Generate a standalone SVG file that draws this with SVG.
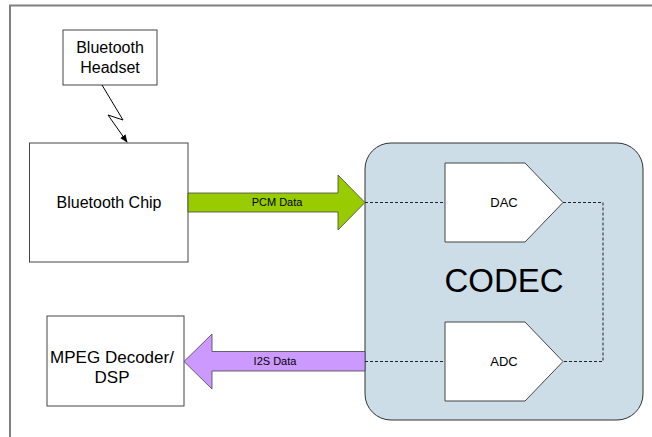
<svg xmlns="http://www.w3.org/2000/svg" width="652" height="437" viewBox="0 0 652 437">
<style>
.box{fill:#fff;stroke:#444;stroke-width:1}
.t{font-family:"Liberation Sans",Arial,sans-serif;fill:#000;text-anchor:middle}
.dash{fill:none;stroke:#222;stroke-width:1;stroke-dasharray:3,2}
</style>
<defs>
<marker id="ah" viewBox="0 0 10 10" refX="9" refY="5" markerWidth="8" markerHeight="8" orient="auto" markerUnits="userSpaceOnUse">
<path d="M0,1 L10,5 L0,9 Z" fill="#000"/>
</marker>
</defs>
<rect width="652" height="437" fill="#fff"/>
<path d="M10,437 V5.5 H652" fill="none" stroke="#808080" stroke-width="2"/>
<g id="codec">
<rect x="365" y="143" width="278" height="277" rx="26" ry="26" fill="#CCDDE7" stroke="#333" stroke-width="1"/>
<text class="t" x="504" y="292" font-size="33">CODEC</text>
</g>
<g id="headset">
<rect class="box" x="63" y="30" width="94" height="55"/>
<text class="t" x="110" y="53" font-size="16">Bluetooth</text>
<text class="t" x="110" y="73" font-size="16">Headset</text>
</g>
<g id="btchip">
<rect class="box" x="29.5" y="143" width="158.5" height="119"/>
<text class="t" x="109" y="208" font-size="16">Bluetooth Chip</text>
</g>
<g id="mpeg">
<rect class="box" x="47" y="316" width="137" height="90"/>
<text class="t" x="112" y="363" font-size="17">MPEG Decoder/</text>
<text class="t" x="112" y="383" font-size="17">DSP</text>
</g>
<g id="dac">
<path class="box" d="M445,163 H525 L563,202.5 L525,242 H445 Z"/>
<text class="t" x="504" y="207" font-size="13">DAC</text>
</g>
<g id="adc">
<path class="box" d="M445,322 H525 L563,361.5 L525,401 H445 Z"/>
<text class="t" x="504" y="366" font-size="13">ADC</text>
</g>
<g id="connectors">
<path d="M102,85 L123,120 L108,115 L127,142" fill="none" stroke="#000" stroke-width="1" marker-end="url(#ah)"/>
<path d="M188,193 H338 V175 L365,202.5 L338,230 V212 H188 Z" fill="#99CC00" stroke="#444" stroke-width="0.8"/>
<text class="t" x="277" y="206" font-size="11">PCM Data</text>
<path d="M365,351.5 H212 V334 L184,361.5 L212,389 V371 H365 Z" fill="#CC99FF" stroke="#444" stroke-width="0.8"/>
<text class="t" x="275" y="365" font-size="11">I2S Data</text>
<path class="dash" d="M365,202.5 H445"/>
<path class="dash" d="M563,202.5 H603 V361.5 H563"/>
<path class="dash" d="M365,361.5 H445"/>
</g>
</svg>
